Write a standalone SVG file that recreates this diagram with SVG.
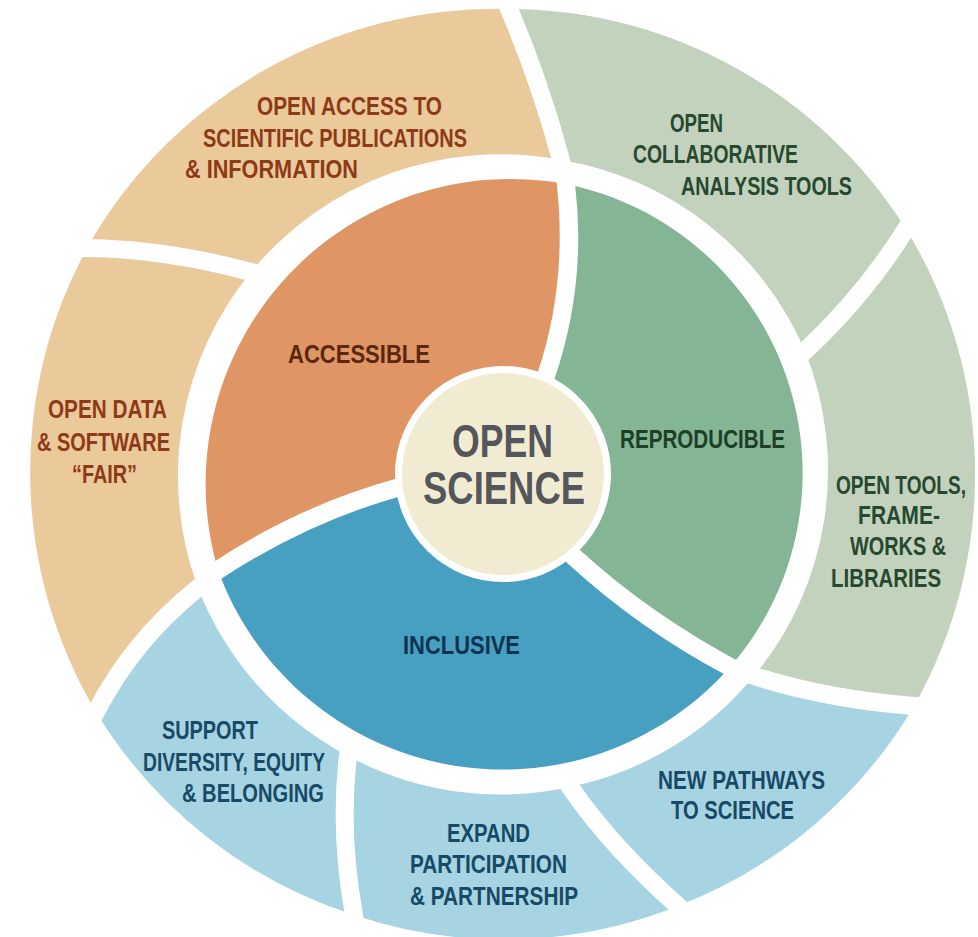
<svg xmlns="http://www.w3.org/2000/svg" width="978" height="937" viewBox="0 0 978 937">
<style>
  .peach{fill:#EAC99B}
  .orange{fill:#E09664}
  .sage{fill:#C2D2BD}
  .green{fill:#84B595}
  .sky{fill:#A7D4E3}
  .blue{fill:#47A0C2}
  .sep{fill:none;stroke:#FFFFFF;stroke-width:18;stroke-linecap:square;stroke-linejoin:round}
  text{font-family:"Liberation Sans Narrow","Liberation Sans",Arial,sans-serif;font-weight:bold}
  .lo{font-size:25px;fill:#8E3A17}
  .lg{font-size:25px;fill:#26492F}
  .lb{font-size:25px;fill:#174A66}
  .io{font-size:26px;fill:#5A2810}
  .ig{font-size:26px;fill:#1D3F26}
  .ib{font-size:26px;fill:#0E3450}
  .c{font-size:46px;fill:#55565B}
</style>
<rect width="978" height="937" fill="#FFFFFF"/>

<g id="open-access">
  <path class="peach" d="M 87 248 A 470 470 0 0 1 509 9 Q 540 82 561 160 A 322 322 0 0 0 251 272 Q 165 249 87 248 Z"/>
  <text class="lo" x="257" y="115" textLength="185" lengthAdjust="spacingAndGlyphs">OPEN ACCESS TO</text>
  <text class="lo" x="203" y="147" textLength="264" lengthAdjust="spacingAndGlyphs">SCIENTIFIC PUBLICATIONS</text>
  <text class="lo" x="185" y="178" textLength="173" lengthAdjust="spacingAndGlyphs">&amp; INFORMATION</text>
</g>

<g id="open-collaborative-tools">
  <path class="sage" d="M 509 9 A 470 470 0 0 1 906 229 Q 864 296 805 351 A 322 322 0 0 0 561 160 Q 540 82 509 9 Z"/>
  <text class="lg" x="670" y="132" textLength="53" lengthAdjust="spacingAndGlyphs">OPEN</text>
  <text class="lg" x="633" y="163" textLength="165" lengthAdjust="spacingAndGlyphs">COLLABORATIVE</text>
  <text class="lg" x="681" y="195" textLength="171" lengthAdjust="spacingAndGlyphs">ANALYSIS TOOLS</text>
</g>

<g id="open-tools">
  <path class="sage" d="M 906 229 A 470 470 0 0 1 914 706 Q 826 699 754 676 A 322 322 0 0 0 805 351 Q 864 296 906 229 Z"/>
  <text class="lg" transform="translate(966 494) scale(0.8 1)" x="0" y="0" text-anchor="end" textLength="162.5" lengthAdjust="spacingAndGlyphs">OPEN TOOLS,</text>
  <text class="lg" x="858" y="524" textLength="82" lengthAdjust="spacingAndGlyphs">FRAME-</text>
  <text class="lg" x="850" y="555" textLength="96" lengthAdjust="spacingAndGlyphs">WORKS &amp;</text>
  <text class="lg" x="831" y="587" textLength="110" lengthAdjust="spacingAndGlyphs">LIBRARIES</text>
</g>

<g id="new-pathways">
  <path class="sky" d="M 914 706 A 470 470 0 0 1 678 906 Q 612 847.5 570 787 A 322 322 0 0 0 754 676 Q 826 699 914 706 Z"/>
  <text class="lb" x="658" y="789" textLength="167" lengthAdjust="spacingAndGlyphs">NEW PATHWAYS</text>
  <text class="lb" x="671" y="819" textLength="123" lengthAdjust="spacingAndGlyphs">TO SCIENCE</text>
</g>

<g id="expand-participation">
  <path class="sky" d="M 678 906 A 470 470 0 0 1 354 915 Q 339 832.5 348 756 A 322 322 0 0 0 570 787 Q 612 847.5 678 906 Z"/>
  <text class="lb" x="447" y="842" textLength="83" lengthAdjust="spacingAndGlyphs">EXPAND</text>
  <text class="lb" x="410" y="873" textLength="157" lengthAdjust="spacingAndGlyphs">PARTICIPATION</text>
  <text class="lb" x="410" y="905" textLength="168" lengthAdjust="spacingAndGlyphs">&amp; PARTNERSHIP</text>
</g>

<g id="support-diversity">
  <path class="sky" d="M 354 915 A 470 470 0 0 1 96 712 Q 133 640 198 588 A 322 322 0 0 0 348 756 Q 339 832.5 354 915 Z"/>
  <text class="lb" x="162" y="739" textLength="96" lengthAdjust="spacingAndGlyphs">SUPPORT</text>
  <text class="lb" x="143" y="771" textLength="182" lengthAdjust="spacingAndGlyphs">DIVERSITY, EQUITY</text>
  <text class="lb" x="182" y="802" textLength="142" lengthAdjust="spacingAndGlyphs">&amp; BELONGING</text>
</g>

<g id="open-data">
  <path class="peach" d="M 96 712 A 470 470 0 0 1 87 248 Q 165 249 251 272 A 322 322 0 0 0 198 588 Q 133 640 96 712 Z"/>
  <text class="lo" x="48" y="418" textLength="119" lengthAdjust="spacingAndGlyphs">OPEN DATA</text>
  <text class="lo" x="37" y="451" textLength="133" lengthAdjust="spacingAndGlyphs">&amp; SOFTWARE</text>
  <text class="lo" x="72" y="483" textLength="65" lengthAdjust="spacingAndGlyphs">“FAIR”</text>
</g>

<g id="accessible">
  <path class="orange" d="M 218 570 A 305 305 0 0 1 566 184 Q 578 282 546 376 L 503 474 L 400 487 Q 302 514 218 570 Z"/>
  <text class="io" x="288" y="363" textLength="142" lengthAdjust="spacingAndGlyphs">ACCESSIBLE</text>
</g>

<g id="reproducible">
  <path class="green" d="M 566 184 A 295 295 0 0 1 730 667 Q 645 622 573 556 L 503 474 L 546 376 Q 578 282 566 184 Z"/>
  <text class="ig" x="620" y="448" textLength="165" lengthAdjust="spacingAndGlyphs">REPRODUCIBLE</text>
</g>

<g id="inclusive">
  <path class="blue" d="M 730 667 A 303 303 0 0 1 218 570 Q 302 514 400 487 L 503 474 L 573 556 Q 645 622 730 667 Z"/>
  <text class="ib" x="403" y="654" textLength="117" lengthAdjust="spacingAndGlyphs">INCLUSIVE</text>
</g>

<g id="separators">
  <path class="sep" d="M 509 9 Q 540 82 561 160"/>
  <path class="sep" d="M 906 229 Q 864 296 805 351"/>
  <path class="sep" d="M 914 706 Q 826 699 754 676"/>
  <path class="sep" d="M 678 906 Q 612 847.5 570 787"/>
  <path class="sep" d="M 354 915 Q 339 832.5 348 756"/>
  <path class="sep" d="M 96 712 Q 133 640 198 588"/>
  <path class="sep" d="M 87 248 Q 165 249 251 272"/>
  <path class="sep" d="M 566 184 Q 578 282 546 376 L 503 474"/>
  <path class="sep" d="M 730 667 Q 645 622 573 556 L 503 474"/>
  <path class="sep" d="M 218 570 Q 302 514 400 487 L 503 474"/>
</g>

<g id="open-science">
  <circle cx="503" cy="474" r="104.5" fill="#F1ECD1" stroke="#FFFFFF" stroke-width="7"/>
  <text class="c" x="452" y="457" textLength="101" lengthAdjust="spacingAndGlyphs">OPEN</text>
  <text class="c" x="423" y="504" textLength="162" lengthAdjust="spacingAndGlyphs">SCIENCE</text>
</g>
</svg>
